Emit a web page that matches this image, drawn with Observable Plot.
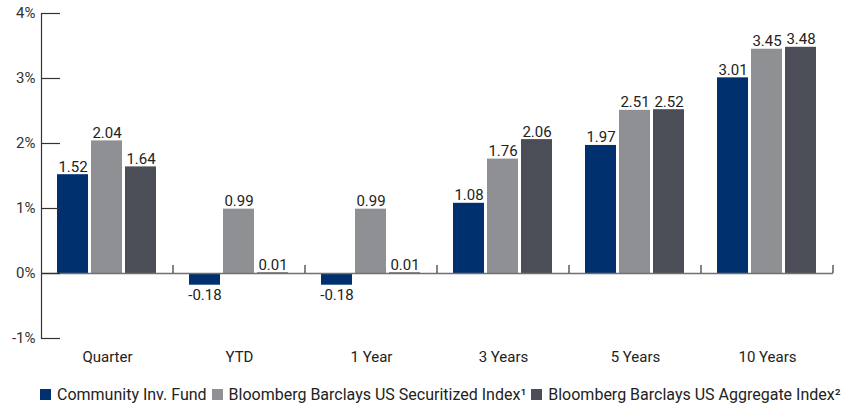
<!DOCTYPE html>
<html><head><meta charset="utf-8">
<script src="https://cdn.jsdelivr.net/npm/d3@7"></script>
<script src="https://cdn.jsdelivr.net/npm/@observablehq/plot@0.6"></script>
<style>
body{margin:0;background:#fff;font-family:Roboto,sans-serif;}
#legend{display:flex;white-space:nowrap;overflow:hidden;width:849px;padding-left:40px;box-sizing:border-box;font-size:16px;color:#222;margin-top:11px;height:22px;align-items:center}
.item{display:flex;align-items:center;margin-right:5px;flex-shrink:0}
.sw{width:11px;height:11px;margin-right:6px;flex-shrink:0}
</style></head><body><div id="chart"></div><div id="legend"></div><script>
const categories = ["Quarter", "YTD", "1 Year", "3 Years", "5 Years", "10 Years"];
const seriesNames = ["Community Inv. Fund", "Bloomberg Barclays US Securitized Index¹", "Bloomberg Barclays US Aggregate Index²"];
const fundValues = [1.52, -0.18, -0.18, 1.08, 1.97, 3.01];
const securitizedValues = [2.04, 0.99, 0.99, 1.76, 2.51, 3.45];
const aggregateValues = [1.64, 0.01, 0.01, 2.06, 2.52, 3.48];
const colors = ["#00306e", "#8f9094", "#4b4e56"];
const yTicks = [-1, 0, 1, 2, 3, 4];

const seriesValues = [fundValues, securitizedValues, aggregateValues];
const data = [];
categories.forEach((c, i) => seriesNames.forEach((s, j) => data.push({category: c, series: s, value: seriesValues[j][i]})));

// small tick marks at the right edge of each category band, rising from the zero line
const boundaryTicks = (index, scales, values, dims) => {
  const x = dims.width - dims.marginRight;
  const y0 = scales.y(0);
  return d3.create("svg:line").attr("x1", x).attr("x2", x).attr("y1", y0).attr("y2", y0 - 8)
    .attr("stroke", "#333").attr("stroke-width", 1.2).node();
};

const tickLen = 19;
const chart = Plot.plot({
  width: 849, height: 372,
  marginTop: 13, marginLeft: 39, marginRight: 15, marginBottom: 34,
  style: {fontFamily: "Roboto, sans-serif", fontSize: "15px", color: "#222", background: "#fff"},
  fx: {domain: categories, padding: 0, label: null},
  x: {domain: seriesNames, paddingInner: 3 / 35, paddingOuter: 0.436, axis: null},
  y: {domain: [-1, 4], label: null},
  color: {domain: seriesNames, range: colors},
  marks: [
    Plot.barY(data, {fx: "category", x: "series", y: "value", fill: "series"}),
    Plot.ruleY([0], {stroke: "#707070", strokeWidth: 1.3}),
    boundaryTicks,
    Plot.text(data.filter(d => d.value >= 0), {fx: "category", x: "series", y: "value", text: d => d.value.toFixed(2), lineAnchor: "bottom", dy: -3, fill: "#222", fontSize: 15}),
    Plot.text(data.filter(d => d.value < 0), {fx: "category", x: "series", y: "value", text: d => d.value.toFixed(2), lineAnchor: "top", dy: 4, fill: "#222", fontSize: 15}),
    Plot.frame({anchor: "left", facetAnchor: "left", stroke: "#333", strokeWidth: 1.2}),
    Plot.axisY(yTicks, {tickSize: tickLen, dx: tickLen, tickFormat: () => "", stroke: "#333", strokeWidth: 1.2, label: null}),
    Plot.axisY(yTicks, {tickSize: 0, tickPadding: 6, tickFormat: d => d + "%", fill: "#333", fontSize: 15, label: null}),
    Plot.axisFx({anchor: "bottom", tickSize: 0, tickPadding: 13, label: null, fontSize: 15, fill: "#222"})
  ]
});
document.getElementById("chart").appendChild(chart);

const legend = document.getElementById("legend");
seriesNames.forEach((s, i) => {
  const item = document.createElement("div");
  item.className = "item";
  item.innerHTML = `<span class="sw" style="background:${colors[i]}"></span><span>${s}</span>`;
  legend.appendChild(item);
});
</script></body></html>
